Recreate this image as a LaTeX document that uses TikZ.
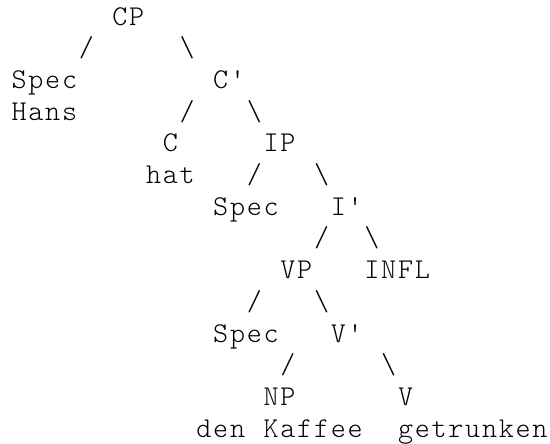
\documentclass[tikz,border=0pt]{standalone}
\usepackage{fontspec}
\setmonofont{Latin Modern Mono Light}

% one fixed-width cell per character
\makeatletter
\newcommand\gridword[1]{\@tfor\gw@c:=#1\do{\makebox[12.6pt][c]{\gw@c}}}
\makeatother

\begin{document}
\begin{tikzpicture}[
  x=12.6pt, y=-23.775pt,
  tok/.style={anchor=base west, inner sep=0pt, font=\ttfamily\fontsize{21.5}{24}\selectfont}
  ]
  \useasboundingbox (-0.625,-0.789) rectangle (32.113,13.186);

  \node[tok] (cp) at (6,0) {\gridword{CP}};
  \node[tok] (cp-l) at (4,1) {\gridword{/}};
  \node[tok] (cp-r) at (10,1) {\gridword{\textbackslash}};
  \node[tok] (spec-c) at (0,2) {\gridword{Spec}};
  \node[tok] (cbar) at (12,2) {\gridword{C'}};
  \node[tok] (hans) at (0,3) {\gridword{Hans}};
  \node[tok] (cbar-l) at (10,3) {\gridword{/}};
  \node[tok] (cbar-r) at (14,3) {\gridword{\textbackslash}};
  \node[tok] (c) at (9,4) {\gridword{C}};
  \node[tok] (ip) at (15,4) {\gridword{IP}};
  \node[tok] (hat) at (8,5) {\gridword{hat}};
  \node[tok] (ip-l) at (14,5) {\gridword{/}};
  \node[tok] (ip-r) at (18,5) {\gridword{\textbackslash}};
  \node[tok] (spec-i) at (12,6) {\gridword{Spec}};
  \node[tok] (ibar) at (19,6) {\gridword{I'}};
  \node[tok] (ibar-l) at (18,7) {\gridword{/}};
  \node[tok] (ibar-r) at (21,7) {\gridword{\textbackslash}};
  \node[tok] (vp) at (16,8) {\gridword{VP}};
  \node[tok] (infl) at (21,8) {\gridword{INFL}};
  \node[tok] (vp-l) at (14,9) {\gridword{/}};
  \node[tok] (vp-r) at (18,9) {\gridword{\textbackslash}};
  \node[tok] (spec-v) at (12,10) {\gridword{Spec}};
  \node[tok] (vbar) at (19,10) {\gridword{V'}};
  \node[tok] (vbar-l) at (16,11) {\gridword{/}};
  \node[tok] (vbar-r) at (22,11) {\gridword{\textbackslash}};
  \node[tok] (np) at (15,12) {\gridword{NP}};
  \node[tok] (v) at (23,12) {\gridword{V}};
  \node[tok] (kaffee) at (11,13) {\gridword{den~Kaffee}};
  \node[tok] (getrunken) at (23,13) {\gridword{getrunken}};
\end{tikzpicture}
\end{document}
